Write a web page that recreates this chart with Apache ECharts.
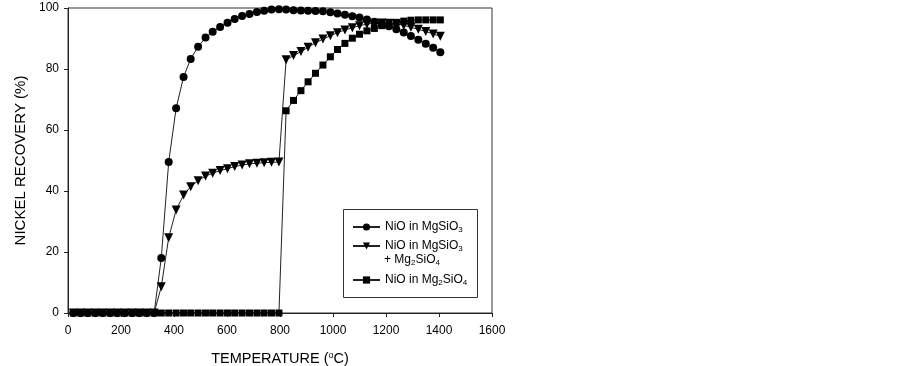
<!DOCTYPE html>
<html lang="en">
<head>
  <meta charset="UTF-8">
  <title>Nickel recovery</title>
</head>
<body style="margin:0; background-color:#fff;">
<div id="main" style="width:903px; height:366px;"></div>

<script src="https://cdn.jsdelivr.net/npm/echarts@6/dist/echarts.min.js"></script>

<script>
var temps = [20, 48, 75, 103, 131, 159, 186, 214, 242, 269, 297, 325,
  352, 380, 408, 436, 463, 491, 519, 546, 574, 602, 629, 657, 685, 713, 740, 768, 796,
  823, 851, 879, 906, 934, 962, 990, 1017, 1045, 1073, 1100, 1128, 1156, 1184, 1211,
  1239, 1267, 1294, 1322, 1350, 1378, 1405];

// NiO in MgSiO3
var mgsio3 = [0, 0, 0, 0, 0, 0, 0, 0, 0, 0, 0, 0,
  18.0, 49.5, 67.1, 77.4, 83.3, 87.3, 90.3, 92.2, 93.8, 95.2, 96.4, 97.4, 98.0, 98.7, 99.1, 99.5, 99.6,
  99.5, 99.3, 99.2, 99.1, 99.0, 98.9, 98.6, 98.2, 97.8, 97.3, 96.9, 96.2, 95.5, 94.8, 94.0,
  93.0, 92.0, 90.8, 89.6, 88.3, 87.0, 85.5];

// NiO in MgSiO3 + Mg2SiO4
var mixed = [0, 0, 0, 0, 0, 0, 0, 0, 0, 0, 0, 0,
  8.6, 24.7, 33.8, 38.7, 41.4, 43.4, 44.9, 45.8, 46.7, 47.3, 48.0, 48.5, 48.9, 49.1, 49.3, 49.4, 49.5,
  83.0, 84.4, 85.7, 87.1, 88.6, 89.8, 90.9, 91.9, 92.8, 93.5, 94.2, 94.7, 95.0, 95.1, 95.0,
  94.8, 94.3, 93.7, 93.0, 92.3, 91.5, 90.7];

// NiO in Mg2SiO4
var mg2sio4 = [0, 0, 0, 0, 0, 0, 0, 0, 0, 0, 0, 0,
  0, 0, 0, 0, 0, 0, 0, 0, 0, 0, 0, 0, 0, 0, 0, 0, 0,
  66.3, 69.7, 72.9, 75.8, 78.6, 81.3, 84.0, 86.4, 88.4, 90.1, 91.4, 92.5, 93.3, 94.2, 94.8,
  95.3, 95.7, 96.0, 96.1, 96.1, 96.1, 96.1];

var names = ['NiO in MgSiO3', 'NiO in MgSiO3 + Mg2SiO4', 'NiO in Mg2SiO4'];
var legendText = {
  'NiO in MgSiO3': 'NiO in MgSiO{sub|3}',
  'NiO in MgSiO3 + Mg2SiO4': 'NiO in MgSiO{sub|3}',
  'NiO in Mg2SiO4': 'NiO in Mg{sub|2}SiO{sub|4}'
};

var font = 'Arial, "Liberation Sans", sans-serif';
var richSub = {
  sub: { fontSize: 8, fontFamily: font, color: '#000', verticalAlign: 'bottom', padding: [6, 0, 0, 0] }
};

function zip(vals) {
  return temps.map(function (t, i) { return [t, vals[i]]; });
}

function lineSeries(name, vals, symbol, size, rotate) {
  return {
    name: name,
    type: 'line',
    data: zip(vals),
    symbol: symbol,
    symbolSize: size,
    symbolRotate: rotate || 0,
    showAllSymbol: true,
    animation: false,
    lineStyle: { color: '#222', width: 1 },
    itemStyle: { color: '#000' }
  };
}

function legendAt(name, top) {
  return {
    data: [name],
    left: 352,
    top: top,
    padding: 0,
    itemWidth: 27,
    itemHeight: 9,
    itemGap: 5,
    selectedMode: false,
    z: 5,
    formatter: function (n) { return legendText[n]; },
    textStyle: { fontSize: 12, fontFamily: font, color: '#000', rich: richSub }
  };
}

var chart = echarts.init(document.getElementById('main'));

chart.setOption({
  backgroundColor: '#fff',
  animation: false,
  grid: {
    left: 68, right: 411, top: 8, bottom: 53,
    outerBoundsMode: 'none',
    containLabel: false,
    show: true, borderColor: '#333', borderWidth: 1
  },
  xAxis: {
    type: 'value',
    min: 0, max: 1600, interval: 200,
    name: 'TEMPERATURE ({sup|o}C)',
    nameLocation: 'middle',
    nameGap: 38,
    nameTextStyle: {
      fontSize: 14.5, fontFamily: font, color: '#000',
      rich: { sup: { fontSize: 9, fontFamily: font, color: '#000', verticalAlign: 'top', padding: [0, 0, 6, 0] } }
    },
    axisLine: { lineStyle: { color: '#222' } },
    axisTick: { length: 4, lineStyle: { color: '#222' } },
    axisLabel: {
      fontSize: 12, fontFamily: font, color: '#000', margin: 12,
      formatter: function (v) { return String(v); }
    },
    splitLine: { show: false }
  },
  yAxis: {
    type: 'value',
    min: 0, max: 100, interval: 20,
    name: 'NICKEL RECOVERY (%)',
    nameLocation: 'middle',
    nameGap: 40,
    nameTextStyle: { fontSize: 15, fontFamily: font, color: '#000' },
    axisLine: { show: true, lineStyle: { color: '#222' } },
    axisTick: { show: true, length: 4, lineStyle: { color: '#222' } },
    axisLabel: { fontSize: 12, fontFamily: font, color: '#000', margin: 9 },
    splitLine: { show: false }
  },
  legend: [
    legendAt(names[0], 221),
    legendAt(names[1], 240),
    legendAt(names[2], 274)
  ],
  graphic: [
    {
      type: 'rect', z: 1,
      shape: { x: 343.5, y: 209.5, width: 134, height: 88 },
      style: { fill: '#fff', stroke: '#333', lineWidth: 1 }
    },
    {
      type: 'text', z: 5, left: 384, top: 254,
      style: {
        text: '+ Mg{sub|2}SiO{sub|4}',
        fontSize: 12, fontFamily: font, fill: '#000',
        rich: richSub
      }
    }
  ],
  series: [
    lineSeries(names[2], mg2sio4, 'rect', 7),
    lineSeries(names[1], mixed, 'triangle', 9, 180),
    lineSeries(names[0], mgsio3, 'circle', 8)
  ]
});
</script>
</body>
</html>
